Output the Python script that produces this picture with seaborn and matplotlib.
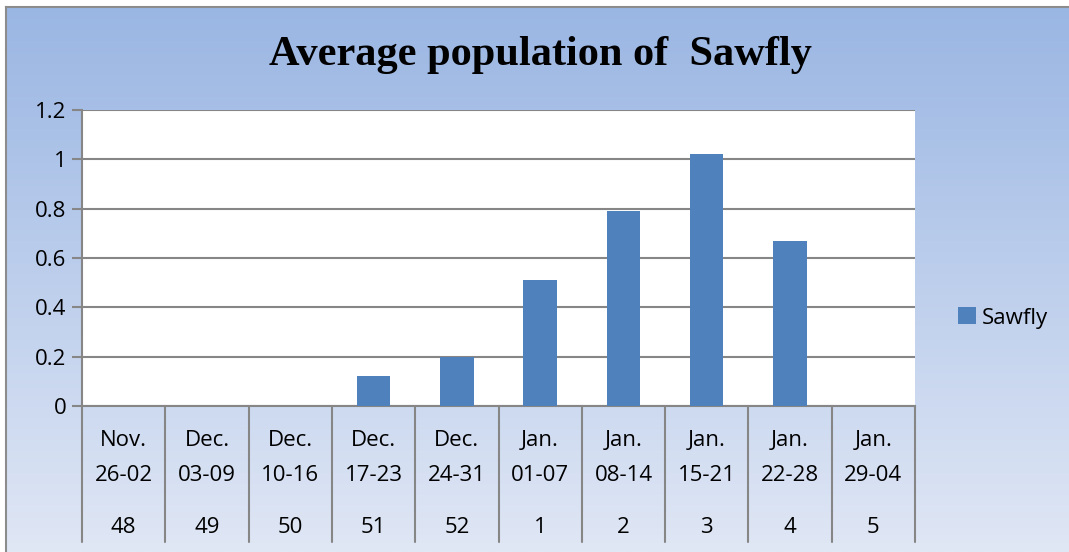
import numpy as np
import pandas as pd
import matplotlib
matplotlib.use("Agg")
import matplotlib.pyplot as plt
from matplotlib.patches import Patch
import seaborn as sns

# data
months = ["Nov.", "Dec.", "Dec.", "Dec.", "Dec.", "Jan.", "Jan.", "Jan.", "Jan.", "Jan."]
ranges = ["26-02", "03-09", "10-16", "17-23", "24-31", "01-07", "08-14", "15-21", "22-28", "29-04"]
weeks = ["48", "49", "50", "51", "52", "1", "2", "3", "4", "5"]
sawfly = [0, 0, 0, 0.12, 0.2, 0.51, 0.79, 1.02, 0.67, 0]

yticks = [0, 0.2, 0.4, 0.6, 0.8, 1.0, 1.2]
ytick_labels = ["0", "0.2", "0.4", "0.6", "0.8", "1", "1.2"]

sns.set_style("white")
plt.rcParams["font.family"] = ["Open Sans", "DejaVu Sans"]
plt.rcParams["text.color"] = "black"
plt.rcParams["ytick.labelcolor"] = "black"

W, H = 1069, 552
fig = plt.figure(figsize=(W / 100, H / 100), dpi=100)
bar_color = "#4F81BD"
grid_color = "#868686"

# gradient background with thin gray frame
bg = fig.add_axes([6 / W, 0, 1 - 6 / W, (H - 7) / H], zorder=0)
top = np.array([0x9A, 0xB6, 0xE3]) / 255
bot = np.array([0xE0, 0xE7, 0xF5]) / 255
t = np.linspace(0, 1, 256)[:, None]
grad = (top * (1 - t) + bot * t)[:, None, :]
bg.imshow(grad, aspect="auto", extent=[0, 1, 0, 1])
bg.set_xticks([])
bg.set_yticks([])
for side in ["right", "bottom"]:
    bg.spines[side].set_visible(False)
for side in ["left", "top"]:
    bg.spines[side].set_color("#8c8c8c")
    bg.spines[side].set_linewidth(1.5)

ax = fig.add_axes([82 / W, (H - 406) / H, (915 - 82) / W, (406 - 110) / H], zorder=1)
ax.set_facecolor("white")

df = pd.DataFrame({"week": range(len(sawfly)), "value": sawfly})
sns.barplot(data=df, x="week", y="value", color=bar_color, width=0.4,
            saturation=1, ax=ax, linewidth=0, zorder=3)

ax.set_xlim(-0.5, len(sawfly) - 0.5)
ax.set_ylim(0, 1.2)
ax.set_yticks(yticks)
ax.set_yticklabels(ytick_labels, fontsize=16, color="black")
ax.yaxis.grid(True, color=grid_color, linewidth=1.5)
ax.set_axisbelow(True)
ax.tick_params(axis="y", length=7, width=1.5, color=grid_color, pad=4, left=True)
ax.set_xticks([])
ax.set_xlabel("")
ax.set_ylabel("")
for side in ["top", "right"]:
    ax.spines[side].set_visible(False)
for side in ["left", "bottom"]:
    ax.spines[side].set_color(grid_color)
    ax.spines[side].set_linewidth(1.5)

# multi-level category labels below the axis
trans = ax.get_xaxis_transform()
for i in range(len(sawfly)):
    ax.text(i, -0.118, months[i], transform=trans, ha="center", va="center", fontsize=16)
    ax.text(i, -0.236, ranges[i], transform=trans, ha="center", va="center", fontsize=16)
    ax.text(i, -0.412, weeks[i], transform=trans, ha="center", va="center", fontsize=16)
for b in np.arange(-0.5, len(sawfly), 1.0):
    ax.plot([b, b], [0, -0.46], transform=trans, color=grid_color, lw=1.5, clip_on=False)

fig.text(0.506, 0.9, "Average population of  Sawfly", ha="center", va="center",
         fontsize=30.5, fontweight="bold", family="Liberation Serif", color="black")

ax.legend(handles=[Patch(facecolor=bar_color, edgecolor="none", label="Sawfly")],
          loc="center left", bbox_to_anchor=(938 / W, (H - 318) / H),
          bbox_transform=fig.transFigure, frameon=False, fontsize=16,
          handlelength=0.8, handleheight=0.8, handletextpad=0.25)

fig.savefig("out.png", dpi=100)
